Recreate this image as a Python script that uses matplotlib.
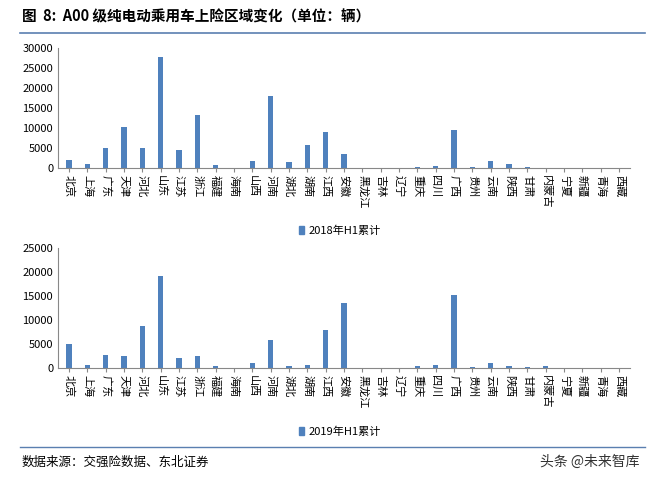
import matplotlib
matplotlib.use('Agg')
import matplotlib.pyplot as plt
from matplotlib.patches import Patch

plt.rcParams['font.family'] = ['Noto Sans CJK SC', 'DejaVu Sans']

provinces = ['北京', '上海', '广东', '天津', '河北', '山东', '江苏', '浙江', '福建', '海南',
             '山西', '河南', '湖北', '湖南', '江西', '安徽', '黑龙江', '吉林', '辽宁', '重庆',
             '四川', '广西', '贵州', '云南', '陕西', '甘肃', '内蒙古', '宁夏', '新疆', '青海', '西藏']
v2018 = [2000, 900, 5000, 10300, 4900, 27800, 4500, 13300, 800, 100,
         1700, 18000, 1500, 5700, 9000, 3400, 50, 50, 100, 300,
         600, 9600, 300, 1700, 900, 300, 100, 50, 100, 50, 0]
v2019 = [4900, 600, 2700, 2600, 8700, 19100, 2100, 2400, 500, 100,
         1000, 5800, 500, 700, 8000, 13500, 50, 50, 100, 500,
         700, 15200, 200, 1100, 500, 200, 500, 50, 50, 50, 0]

BLUE = '#4F81BD'
W, H = 661, 480
fig = plt.figure(figsize=(W / 100, H / 100), dpi=100)

fig.text(22 / W, 1 - 16 / H, '图  8:  A00 级纯电动乘用车上险区域变化（单位：辆）',
         fontsize=10.5, fontweight='bold', va='center', ha='left')
fig.add_artist(plt.Line2D([20 / W, 645 / W], [1 - 33 / H] * 2, color='#5a7fb0', lw=1.2))

def panel(bottom_px, top_px, vals, ymax, step, label, leg_y):
    ax = fig.add_axes([58 / W, 1 - bottom_px / H, 572 / W, (bottom_px - top_px) / H])
    x = range(len(provinces))
    ax.bar(x, vals, width=0.3, color=BLUE)
    ax.set_xlim(-0.6, len(provinces) - 0.4)
    ax.set_ylim(0, ymax)
    ax.set_yticks(range(0, ymax + 1, step))
    ax.tick_params(axis='y', labelsize=8, length=0)
    ax.set_xticks(list(x))
    ax.set_xticklabels(provinces, rotation=270, fontsize=8)
    ax.tick_params(axis='x', length=3, color='#888888', pad=2)
    for s in ['top', 'right']:
        ax.spines[s].set_visible(False)
    for s in ['left', 'bottom']:
        ax.spines[s].set_color('#888888')
    fig.legend(handles=[Patch(color=BLUE, label=label)], loc='center',
               bbox_to_anchor=(340 / W, 1 - leg_y / H), frameon=False, fontsize=8,
               handlelength=0.5, handleheight=0.7, handletextpad=0.4)

panel(168, 48, v2018, 30000, 5000, '2018年H1累计', 231)
panel(368, 248, v2019, 25000, 5000, '2019年H1累计', 432)

fig.add_artist(plt.Line2D([20 / W, 645 / W], [1 - 447 / H] * 2, color='#5a7fb0', lw=1.0))
fig.text(22 / W, 1 - 462 / H, '数据来源：交强险数据、东北证券', fontsize=9, va='center')
fig.text(540 / W, 1 - 462 / H, '头条 @未来智库', fontsize=10, va='center', color='#333333')

fig.savefig('out.png', dpi=100)
